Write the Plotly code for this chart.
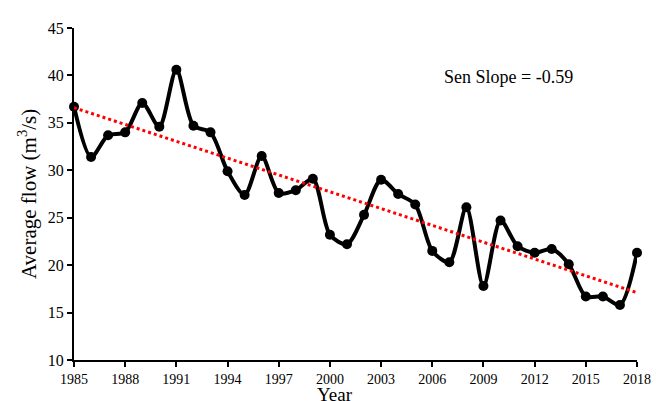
import plotly.graph_objects as go

years = list(range(1985, 2019))
flow = [36.7, 31.4, 33.7, 34.0, 37.1, 34.6, 40.6, 34.7, 34.0, 29.9,
        27.4, 31.5, 27.6, 27.9, 29.1, 23.2, 22.2, 25.3, 29.0, 27.5,
        26.4, 21.5, 20.3, 26.1, 17.8, 24.7, 22.0, 21.3, 21.7, 20.1,
        16.7, 16.7, 15.8, 21.3]
trend_years = [1985, 2018]
trend_values = [36.6, 17.1]
x_ticks = list(range(1985, 2019, 3))
y_ticks = list(range(10, 46, 5))

FONT = "Liberation Serif, Times New Roman, serif"

fig = go.Figure()
fig.add_trace(go.Scatter(
    x=years, y=flow, mode="lines+markers",
    line=dict(color="black", width=4, shape="spline", smoothing=0.8),
    marker=dict(color="black", size=10),
    cliponaxis=False, showlegend=False,
))
fig.add_trace(go.Scatter(
    x=trend_years, y=trend_values, mode="lines",
    line=dict(color="#ff0000", width=3, dash="dot"),
    cliponaxis=False, showlegend=False,
))

fig.update_layout(
    width=664, height=401,
    margin=dict(l=66, r=35, t=12, b=49),
    paper_bgcolor="white", plot_bgcolor="white",
    font=dict(family=FONT, color="black"),
    xaxis=dict(range=[1985, 2018], tickvals=x_ticks, ticktext=[str(v) for v in x_ticks],
               showgrid=False, zeroline=False, showline=True, linecolor="black", linewidth=2,
               ticks="outside", ticklen=5, tickwidth=1.5, tickcolor="black",
               tickfont=dict(size=14, family=FONT, color="black")),
    yaxis=dict(range=[10, 45], tickvals=y_ticks,
               showgrid=False, zeroline=False, showline=True, linecolor="black", linewidth=2,
               ticks="outside", ticklen=5, tickwidth=1.5, tickcolor="black",
               tickfont=dict(size=16, family=FONT, color="black")),
    annotations=[
        dict(text="Average flow (m<sup>3</sup>/s)", xref="paper", yref="paper",
             x=-0.0835, y=0.5, xanchor="center", yanchor="middle", textangle=-90,
             showarrow=False, font=dict(size=21, family=FONT, color="black")),
        dict(text="Year", xref="paper", yref="paper",
             x=0.4636, y=-0.104, xanchor="center", yanchor="middle",
             showarrow=False, font=dict(size=19, family=FONT, color="black")),
        dict(text="Sen Slope = -0.59", xref="paper", yref="paper",
             x=0.771, y=0.852, xanchor="center", yanchor="middle",
             showarrow=False, font=dict(size=18, family=FONT, color="black")),
    ],
)

fig.write_html("out.html")
